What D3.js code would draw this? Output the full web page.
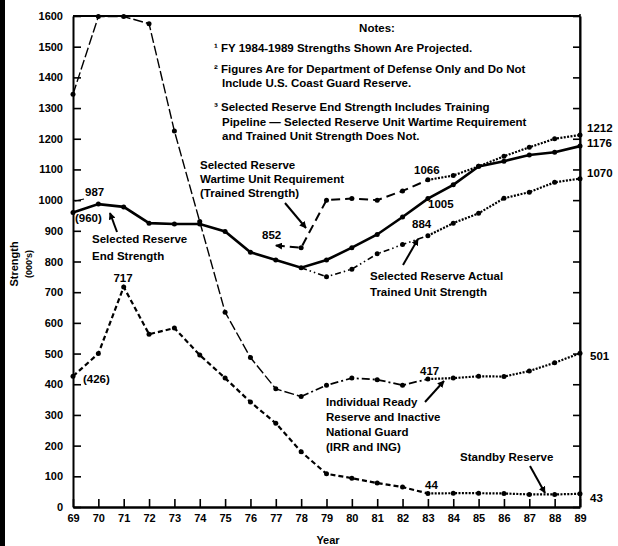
<!DOCTYPE html>
<html>
<head>
<meta charset="utf-8">
<script src="https://cdn.jsdelivr.net/npm/d3@7"></script>
<style>
  body { margin: 0; background: #fff; }
  text { font-family: "Liberation Sans", Arial, sans-serif; font-weight: bold; fill: #000; }
</style>
</head>
<body>
<svg id="chart" width="618" height="546"></svg>
<script>
// years 1969..1989, shown as two digits
var years = d3.range(69, 90);
var endStrength   = [960, 987, 978, 925, 922, 922, 898, 830, 805, 780, 805, 845, 888, 945, 1005, 1050, 1110, 1127, 1147, 1156, 1176];
var irrIng        = [1345, 1598, 1598, 1575, 1225, 930, 635, 487, 385, 360, 397, 420, 415, 397, 417, 420, 426, 425, 443, 470, 501];
var standby       = [426, 500, 717, 563, 583, 495, 420, 342, 273, 180, 108, 94, 78, 65, 44, 45, 45, 44, 41, 41, 43];
var wartimeYears  = d3.range(77, 90);
var wartimeReq    = [852, 845, 1000, 1005, 1000, 1030, 1066, 1080, 1110, 1143, 1172, 1200, 1212];
var trainedYears  = d3.range(78, 90);
var trainedActual = [780, 750, 775, 825, 855, 884, 925, 957, 1006, 1026, 1058, 1070];
var yTicks = d3.range(0, 1700, 100);

var notes = [
  "\u00B9 FY 1984-1989 Strengths Shown Are Projected.",
  "\u00B2 Figures Are for Department of Defense Only and Do Not",
  "Include U.S. Coast Guard Reserve.",
  "\u00B3 Selected Reserve End Strength Includes Training",
  "Pipeline \u2014 Selected Reserve Unit Wartime Requirement",
  "and Trained Unit Strength Does Not."
];

var svg = d3.select("#chart"),
    plot = {left: 73, right: 580, top: 16, bottom: 507};

var x = d3.scaleLinear().domain([69, 89]).range([plot.left, plot.right]);
var y = d3.scaleLinear().domain([0, 1600]).range([plot.bottom, plot.top]);

svg.append("defs").append("marker")
    .attr("id", "arrow")
    .attr("viewBox", "0 0 10 10")
    .attr("refX", 9).attr("refY", 5)
    .attr("markerWidth", 7).attr("markerHeight", 7)
    .attr("markerUnits", "userSpaceOnUse")
    .attr("orient", "auto-start-reverse")
  .append("path")
    .attr("d", "M0,0L10,5L0,10z");

// scan edge on the left
svg.append("rect").attr("x", 0).attr("y", 0).attr("width", 5).attr("height", 546).attr("fill", "#000");

// frame
svg.append("line").attr("x1", plot.left).attr("x2", plot.right).attr("y1", plot.top).attr("y2", plot.top)
    .attr("stroke", "#000").attr("stroke-width", 2);
svg.append("line").attr("x1", plot.right).attr("x2", plot.right).attr("y1", plot.top - 2).attr("y2", plot.bottom)
    .attr("stroke", "#000").attr("stroke-width", 1.5);

// axes
var yAxis = svg.append("g")
    .attr("transform", "translate(" + plot.left + ",0)")
    .call(d3.axisLeft(y).tickValues(yTicks).tickFormat(d3.format("d"))
      .tickSizeInner(-8).tickSizeOuter(0).tickPadding(10));
var yAxisR = svg.append("g")
    .attr("transform", "translate(" + plot.right + ",0)")
    .call(d3.axisRight(y).tickValues(yTicks).tickSizeInner(-7).tickSizeOuter(0).tickFormat(""));
var xAxis = svg.append("g")
    .attr("transform", "translate(0," + plot.bottom + ")")
    .call(d3.axisBottom(x).tickValues(years).tickFormat(d3.format("d"))
      .tickSizeInner(-8).tickSizeOuter(0).tickPadding(7));

[yAxis, yAxisR, xAxis].forEach(function(a) {
  a.selectAll("path").attr("stroke", "#000").attr("stroke-width", 2);
  a.selectAll("line").attr("stroke", "#000").attr("stroke-width", 1.6);
  a.selectAll("text").style("font-size", "11px").attr("fill", "#000");
});
xAxis.select("path").attr("stroke-width", 2.6);

// axis titles
svg.append("text").attr("transform", "translate(18,264) rotate(-90)")
    .attr("text-anchor", "middle").style("font-size", "11px").text("Strength");
svg.append("text").attr("transform", "translate(32,264) rotate(-90)")
    .attr("text-anchor", "middle").style("font-size", "9px").text("(000's)");
svg.append("text").attr("x", 328).attr("y", 544).attr("text-anchor", "middle")
    .style("font-size", "11px").text("Year");

// series
var line = d3.line().x(function(d) { return x(d[0]); }).y(function(d) { return y(d[1]); });

function seg(xs, vs, from, to, dash, width, startArrow) {
  var pts = [];
  xs.forEach(function(yr, i) { if (yr >= from && yr <= to) pts.push([yr, vs[i]]); });
  var p = svg.append("path").datum(pts)
      .attr("d", line)
      .attr("fill", "none")
      .attr("stroke", "#000")
      .attr("stroke-width", width)
      .attr("stroke-dasharray", dash);
  if (startArrow) p.attr("marker-start", "url(#arrow)");
}

function dots(xs, vs, from) {
  svg.append("g").selectAll("circle")
    .data(xs.map(function(yr, i) { return [yr, vs[i]]; }).filter(function(d) { return d[0] >= from; }))
    .enter().append("circle")
      .attr("cx", function(d) { return x(d[0]); })
      .attr("cy", function(d) { return y(d[1]); })
      .attr("r", 2.5)
      .attr("fill", "#000");
}

var DOT = "2,1.4";

seg(years, irrIng, 69, 78, "10,3", 1.4);
seg(years, irrIng, 78, 83, "8,3,2,3", 1.8);
seg(years, irrIng, 83, 89, DOT, 2.2);
dots(years, irrIng, 69);

seg(years, standby, 69, 83, "5,3", 2.2);
seg(years, standby, 83, 89, DOT, 2.2);
dots(years, standby, 69);

seg(years, endStrength, 69, 89, null, 2.6);
dots(years, endStrength, 69);

seg(wartimeYears, wartimeReq, 77, 83, "9,5", 2, true);
seg(wartimeYears, wartimeReq, 83, 89, DOT, 2.2);
dots(wartimeYears, wartimeReq, 78);

seg(trainedYears, trainedActual, 78, 83, "6,3,1.5,3,1.5,3", 1.6);
seg(trainedYears, trainedActual, 83, 89, DOT, 2.2);
dots(trainedYears, trainedActual, 79);

// notes block
svg.append("text").attr("x", 377).attr("y", 32).attr("text-anchor", "middle")
    .style("font-size", "11.5px").text("Notes:");
var noteY = [52, 73, 87, 111, 126, 140],
    noteX = [214, 214, 222, 214, 222, 222];
notes.forEach(function(n, i) {
  svg.append("text").attr("x", noteX[i]).attr("y", noteY[i])
      .style("font-size", "11.5px").text(n);
});

// annotations
function label(lines, x0, y0, step, anchor) {
  step = step || 0;
  lines.forEach(function(t, i) {
    svg.append("text").attr("x", x0).attr("y", y0 + i * step)
        .attr("text-anchor", anchor || "start").style("font-size", "11.5px").text(t);
  });
}
function arrow(x1, y1, x2, y2) {
  svg.append("line").attr("x1", x1).attr("y1", y1).attr("x2", x2).attr("y2", y2)
      .attr("stroke", "#000").attr("stroke-width", 2).attr("marker-end", "url(#arrow)");
}

label(["987"], 85, 196);
svg.append("line").attr("x1", 75).attr("y1", 201).attr("x2", 84).attr("y2", 199)
    .attr("stroke", "#000").attr("stroke-width", 1.2);
label(["(960)"], 75, 222);
label(["Selected Reserve", "End Strength"], 92, 243, 17);
arrow(117, 232, 110, 213);

label(["717"], 123, 282, 0, "middle");
label(["(426)"], 83, 383);

label(["Selected Reserve", "Wartime Unit Requirement", "(Trained Strength)"], 200, 169, 14);
arrow(285, 203, 306, 228);
label(["852"], 262, 239);

label(["1066"], 414, 174);
label(["1005"], 428, 208);
label(["884"], 412, 228);
label(["Selected Reserve Actual", "Trained Unit Strength"], 370, 280, 16);
arrow(403, 265, 418, 239);

label(["417"], 420, 375);
label(["Individual Ready", "Reserve and Inactive", "National Guard", "(IRR and ING)"], 326, 406, 15);
arrow(425, 402, 444, 381);

label(["44"], 425, 489);
label(["Standby Reserve"], 460, 461);
arrow(530, 466, 545, 493);

label(["1212"], 587, 132);
label(["1176"], 587, 147);
label(["1070"], 587, 177);
label(["501"], 590, 360);
label(["43"], 590, 502);
</script>
</body>
</html>
